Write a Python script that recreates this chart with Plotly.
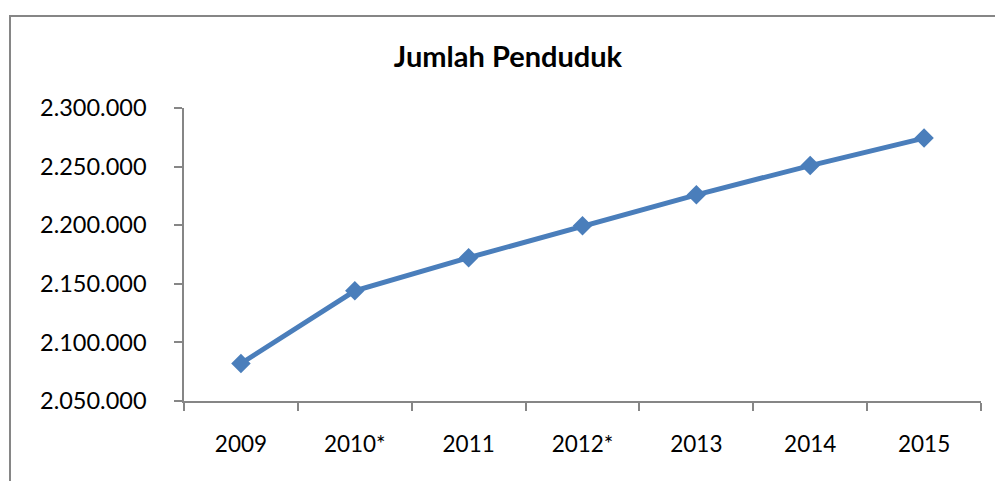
import plotly.graph_objects as go

years = ["2009", "2010*", "2011", "2012*", "2013", "2014", "2015"]
penduduk = [2082000, 2144000, 2172300, 2199600, 2225900, 2250900, 2274300]
y_ticks = [2050000, 2100000, 2150000, 2200000, 2250000, 2300000]

W, H = 995, 481
L, R, T, B = 184, 14, 108, 80

fig = go.Figure()
fig.add_trace(go.Scatter(
    x=years, y=penduduk, mode="lines+markers",
    line=dict(color="#4A7EBB", width=5),
    marker=dict(symbol="diamond", size=15, color="#4A7EBB"),
    showlegend=False, hoverinfo="skip",
))

pw = W - L - R
ph = H - T - B
fig.add_shape(type="rect", xref="paper", yref="paper",
              x0=(10 - L) / pw, x1=(1010 - L) / pw,
              y0=(H - B - 500) / ph, y1=(H - B - 16) / ph,
              line=dict(color="#868686", width=2), fillcolor="rgba(0,0,0,0)")

font = "Lato, 'Open Sans', sans-serif"
fig.update_layout(
    width=W, height=H,
    margin=dict(l=L, r=R, t=T, b=B, pad=0, autoexpand=False),
    paper_bgcolor="white", plot_bgcolor="white",
    separators=",.",
    font=dict(family=font, size=23, color="#000000"),
    title=dict(text="<b>Jumlah Penduduk</b>", x=508 / W, xanchor="center",
               y=1 - 57 / H, yanchor="middle", yref="container",
               font=dict(family=font, size=29, color="#000000")),
    xaxis=dict(type="category", range=[-0.5, len(years) - 0.5],
               showline=True, linecolor="#868686", linewidth=1.5,
               ticks="outside", tickson="boundaries", ticklen=8, tickcolor="#868686",
               tickwidth=1.5, showgrid=False, zeroline=False, ticklabelstandoff=22,
               automargin=False, tickfont=dict(family=font, size=22.5)),
    yaxis=dict(range=[2050000, 2300000], tickvals=y_ticks, tickformat=",d",
               showline=True, linecolor="#868686", linewidth=1.5,
               ticks="outside", ticklen=8, tickcolor="#868686", tickwidth=1.5,
               showgrid=False, zeroline=False, ticklabelstandoff=23,
               automargin=False, tickfont=dict(family=font, size=23.5)),
)

fig.write_html("out.html", config={"displayModeBar": False},
               post_script="document.body.style.margin='0';document.body.style.overflow='hidden';")
